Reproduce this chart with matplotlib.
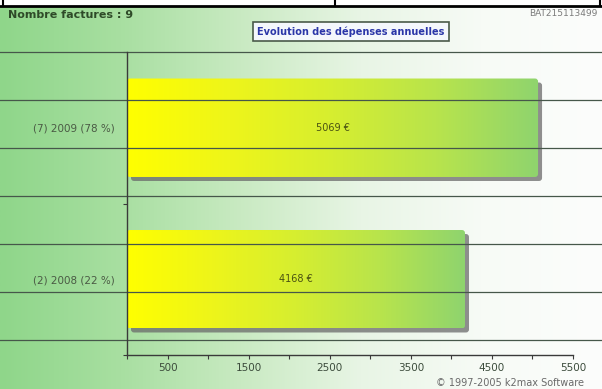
import numpy as np
import matplotlib.pyplot as plt
import matplotlib.transforms as mtransforms
from matplotlib.colors import LinearSegmentedColormap
from matplotlib.patches import FancyBboxPatch, Rectangle
from matplotlib.lines import Line2D

# data
years = ["2009", "2008"]
nb_factures = [7, 2]
pourcent = [78, 22]
montants = [5069, 4168]
xticks_major = [500, 1500, 2500, 3500, 4500, 5500]
xticks_minor = [0, 1000, 2000, 3000, 4000, 5000]

W, H = 602, 389
fig = plt.figure(figsize=(W / 100, H / 100), dpi=100)

# background gradient (green on the left -> white on the right)
bg = fig.add_axes([0, 0, 1, 1], zorder=0)
bg_cmap = LinearSegmentedColormap.from_list(
    "bg", ["#8fd68a", "#a8dfa1", "#c9eac2", "#e8f5e5", "#f7fbf6", "#fcfdfc"])
bg.imshow(np.linspace(0, 1, 256).reshape(1, -1), cmap=bg_cmap, aspect="auto",
          extent=[0, 1, 0, 1])
bg.set_xlim(0, 1)
bg.set_ylim(0, 1)
bg.axis("off")

# white table strip on top with black borders
fig.patches.append(Rectangle((0, 1 - 6 / H), 1, 6 / H, transform=fig.transFigure,
                             facecolor="white", edgecolor="none", zorder=1))
fig.lines.append(Line2D([0, 1], [1 - 6 / H, 1 - 6 / H], transform=fig.transFigure,
                        color="black", lw=2, zorder=2))
for vx in [3, 335, 600]:
    fig.lines.append(Line2D([vx / W, vx / W], [1 - 6 / H, 1], transform=fig.transFigure,
                            color="black", lw=1.5, zorder=2))

# main axes
ax = fig.add_axes([127 / W, 34 / H, 446 / W, 303 / H], zorder=1)
ax.patch.set_alpha(0)
ax.set_xlim(0, 5500)
ax.set_ylim(0, 2)

pos = [1.5, 0.5]
bars = ax.barh(pos, montants, height=0.65, color="none", edgecolor="none")

bar_cmap = LinearSegmentedColormap.from_list(
    "bar", ["#ffff00", "#eef51a", "#d6ee30", "#b8e44c", "#8fd46e"])
grad = np.linspace(0, 1, 256).reshape(1, -1)
px_x = 5500 / 446
px_y = 2 / 303
shadow_off = mtransforms.ScaledTranslation(4 / 100, -4 / 100, fig.dpi_scale_trans)

for b, m in zip(bars, montants):
    x, y, w, h = b.get_x(), b.get_y(), b.get_width(), b.get_height()
    style = "round,pad=0,rounding_size=%f" % (3 * px_x)
    shadow = FancyBboxPatch((x, y), w, h, boxstyle=style, mutation_aspect=px_y / px_x,
                            facecolor="#6a6a6a", edgecolor="none", alpha=0.75,
                            transform=ax.transData + shadow_off, zorder=2)
    ax.add_patch(shadow)
    patch = FancyBboxPatch((x, y), w, h, boxstyle=style, mutation_aspect=px_y / px_x,
                           facecolor="none", edgecolor="none", zorder=3)
    ax.add_patch(patch)
    im = ax.imshow(grad, cmap=bar_cmap, aspect="auto", extent=[x, x + w, y, y + h],
                   zorder=3)
    im.set_clip_path(patch)
    ax.text(w / 2, y + h / 2, f"{m} €", ha="center", va="center", fontsize=7,
            color="#4a5212", zorder=6)

ax.set_xlim(0, 5500)
ax.set_ylim(0, 2)

# horizontal lines across the whole picture
for gy in np.linspace(2.0, 0.1, 7):
    ax.axhline(gy, xmin=-127 / 446, xmax=(W - 127) / 446, clip_on=False,
               color="#46574a", lw=0.9, zorder=5)

for s in ["top", "right"]:
    ax.spines[s].set_visible(False)
for s in ["left", "bottom"]:
    ax.spines[s].set_color("#3a3a3a")
    ax.spines[s].set_linewidth(1.0)
    ax.spines[s].set_zorder(6)

ax.set_xticks(xticks_major)
ax.set_xticklabels([str(t) for t in xticks_major])
ax.set_xticks(xticks_minor, minor=True)
ax.tick_params(axis="x", which="both", direction="out", length=3, width=0.8,
               color="#3a3a3a", labelsize=7.5, labelcolor="#3c4c3c", pad=3)

ax.set_yticks(pos)
ax.set_yticklabels([f"({n}) {yr} ({p} %)" for n, yr, p in zip(nb_factures, years, pourcent)])
ax.set_yticks([0, 1, 2], minor=True)
ax.tick_params(axis="y", which="major", length=0, labelsize=7.5, labelcolor="#4a5a44", pad=9)
ax.tick_params(axis="y", which="minor", direction="out", length=3, width=0.8, color="#3a3a3a")

# texts
fig.text(8 / W, 1 - 15 / H, f"Nombre factures : {sum(nb_factures)}", fontsize=8,
         weight="bold", color="#2e4a28", va="center", ha="left")
fig.text(351 / W, 1 - 31.5 / H, "Evolution des dépenses annuelles", fontsize=7,
         weight="bold", color="#2b36a8", ha="center", va="center",
         bbox=dict(boxstyle="square,pad=0.45", facecolor="#f4f7fc", edgecolor="#4a5a4a", lw=1.2))
fig.text(597 / W, 1 - 14 / H, "BAT215113499", fontsize=6.5, color="#7a7a7a",
         ha="right", va="center")
fig.text(436 / W, 1 - 383 / H, "© 1997-2005 k2max Software", fontsize=7,
         color="#6a6a6a", ha="left", va="center")

fig.savefig("out.png", dpi=100)
